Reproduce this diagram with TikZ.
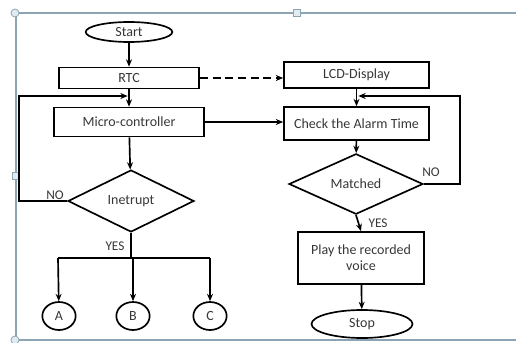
\documentclass[tikz,border=0pt]{standalone}
\usepackage{fontspec}
\setmainfont{Carlito}
\usetikzlibrary{shapes.geometric,arrows.meta}
\definecolor{frm}{RGB}{140,165,180}
\definecolor{hdl}{RGB}{225,235,242}
\definecolor{txt}{RGB}{55,55,55}
\begin{document}
\begin{tikzpicture}[x=0.75pt,y=-0.75pt,
  base/.style={draw=black,line width=1.25pt,text=txt,font=\fontsize{10.5}{12}\selectfont,inner sep=0pt,align=center},
  boxn/.style={base,rectangle},
  ovaln/.style={base,ellipse},
  decn/.style={base,diamond},
  arr/.style={line width=1.25pt,-{Stealth[length=5.5pt,width=4.5pt]}},
  ln/.style={line width=1.25pt},
  lbl/.style={text=txt,font=\fontsize{10}{12}\selectfont,inner sep=0pt}]
\useasboundingbox (0,0) rectangle (516,342);
% selection frame
\draw[frm,line width=0.9pt] (516,13) -- (16,13) -- (16,340) -- (516,340);
\node[draw=frm,fill=hdl,circle,minimum size=6pt,inner sep=0pt,line width=0.6pt] (h1) at (15,13) {};
\node[draw=frm,fill=hdl,circle,minimum size=6pt,inner sep=0pt,line width=0.6pt] (h2) at (15,340) {};
\node[draw=frm,fill=hdl,rectangle,minimum size=5pt,inner sep=0pt,line width=0.6pt] (h3) at (297,13) {};
\node[draw=frm,fill=hdl,rectangle,minimum size=5pt,inner sep=0pt,line width=0.6pt] (h4) at (16,176) {};
% left column
\node[ovaln,minimum width=65pt,minimum height=15pt] (start) at (129,32) {Start};
\node[boxn,minimum width=105pt,minimum height=15.75pt] (rtc) at (129,78) {RTC};
\node[boxn,minimum width=112.5pt,minimum height=21.75pt] (mc) at (129,122) {Micro-controller};
\node[decn,minimum width=94.5pt,minimum height=46.5pt] (int) at (131,201) {Inetrupt};
\node[ovaln,minimum width=25pt,minimum height=21pt] (A) at (59,316) {A};
\node[ovaln,minimum width=25pt,minimum height=21pt] (B) at (133,316) {B};
\node[ovaln,minimum width=25pt,minimum height=21pt] (C) at (210,316) {C};
% right column
\node[boxn,minimum width=108.75pt,minimum height=19.5pt] (lcd) at (356.5,75) {LCD-Display};
\node[boxn,minimum width=108.75pt,minimum height=24.75pt] (chk) at (356.5,123.5) {Check the Alarm Time};
\node[decn,minimum width=100.5pt,minimum height=43.5pt] (mat) at (356,184) {Matched};
\node[boxn,minimum width=94.5pt,minimum height=39pt] (play) at (361,258) {Play the recorded\\voice};
\node[ovaln,minimum width=75.75pt,minimum height=21pt] (stop) at (362,324) {Stop};
% coordinates
\coordinate (jl) at (129,96);
\coordinate (lx) at (19,96);
\coordinate (jr) at (357,96);
\coordinate (rx) at (460,96);
\coordinate (br) at (131,258);
\coordinate (bl) at (58,258);
\coordinate (bc) at (210,258);
% left connectors
\draw[arr] (start) -- (rtc);
\draw[arr] (rtc) -- (mc);
\draw[arr] (int.west) -- (int.west -| lx) -- (lx) -- ([xshift=-1pt]jl);
\draw[arr] (mc) -- (int);
\draw[ln] (int.south) -- (br);
\draw[ln] (bl) -- (bc);
\draw[arr] (bl) -- (A);
\draw[arr] (br -| B) -- (B);
\draw[arr] (bc) -- (C);
\node[lbl] (no1) at (55,195) {NO};
\node[lbl] (yes1) at (115,246) {YES};
% cross connectors
\draw[arr,dash pattern=on 6pt off 3.5pt] (rtc.east) -- (lcd.west |- rtc.east);
\draw[arr] (mc.east) -- (mc.east -| chk.west);
% right connectors
\draw[arr] (lcd) -- (chk);
\draw[arr] (mat.east) -- (mat.east -| rx) -- (rx) -- ([xshift=1pt]jr);
\draw[arr] (chk) -- (mat);
\draw[arr] (mat.south) -- (play.north);
\draw[arr] (play) -- (stop);
\node[lbl] (no2) at (431,172) {NO};
\node[lbl] (yes2) at (378,223) {YES};
\end{tikzpicture}
\end{document}
